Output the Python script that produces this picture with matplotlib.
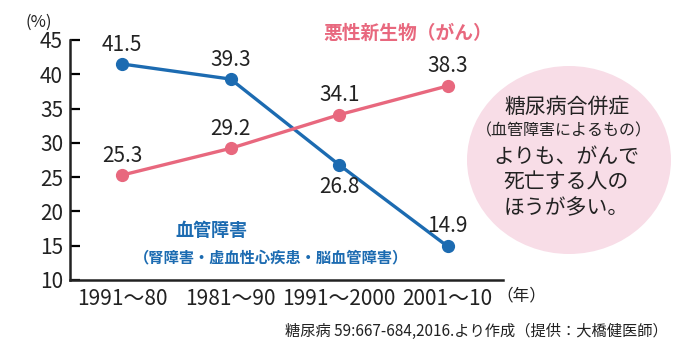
import matplotlib
matplotlib.use("Agg")
import matplotlib.pyplot as plt
from matplotlib.patches import Ellipse

plt.rcParams['font.family'] = ['Noto Sans CJK JP', 'DejaVu Sans']
NUM_FONT = ['Liberation Sans Narrow', 'Noto Sans CJK JP', 'DejaVu Sans']

# data
periods = ["1991〜80", "1981〜90", "1991〜2000", "2001〜10"]
vascular = [41.5, 39.3, 26.8, 14.9]
cancer = [25.3, 29.2, 34.1, 38.3]
yticks = [10, 15, 20, 25, 30, 35, 40, 45]

BLUE = "#1c6bb1"
PINK = "#e8687e"
INK = "#222222"
W, H = 680, 351

fig = plt.figure(figsize=(6.8, 3.51), dpi=100)

def fx(x):
    return x / W

def fy(y):
    return 1 - y / H

# pink bubble behind everything
bubble = Ellipse((fx(569), fy(160)), 204 / W, 188 / H, transform=fig.transFigure,
                 facecolor="#f8dde7", edgecolor="none", zorder=0)
fig.patches.append(bubble)

ax = fig.add_axes([fx(70), fy(280), fx(503) - fx(70), fy(40) - fy(280)])
ax.patch.set_alpha(0)
x = range(len(periods))

ax.plot(x, vascular, color=BLUE, lw=2.4, marker="o", ms=8.5, zorder=3)
ax.plot(x, cancer, color=PINK, lw=2.4, marker="o", ms=8.5, zorder=3)

# value labels: offsets in points
v_off = [(0, 14), (0, 14), (0, -16), (0, 15)]
c_off = [(0, 14), (0, 14), (0, 14), (0, 14)]
for i, v in enumerate(vascular):
    ax.annotate(f"{v}", (i, v), xytext=v_off[i], textcoords="offset points",
                ha="center", va="center", fontsize=15, color=INK, family=NUM_FONT)
for i, v in enumerate(cancer):
    ax.annotate(f"{v}", (i, v), xytext=c_off[i], textcoords="offset points",
                ha="center", va="center", fontsize=15, color=INK, family=NUM_FONT)

ax.set_xlim(-0.48, 3.51)
ax.set_ylim(10, 45)
ax.set_yticks(yticks)
ax.set_xticks(list(x))
ax.set_xticklabels(periods, fontsize=15, color=INK, family=NUM_FONT)
for t in ax.get_yticklabels():
    t.set_family(NUM_FONT)
ax.tick_params(axis="x", length=0, pad=6)
ax.tick_params(axis="y", length=7, width=1.6, direction="in", labelsize=15,
               labelcolor=INK, pad=5)
ax.yaxis.set_ticks_position("left")
for s in ["top", "right"]:
    ax.spines[s].set_visible(False)
for s in ["left", "bottom"]:
    ax.spines[s].set_linewidth(1.8)
    ax.spines[s].set_color(INK)

# texts
fig.text(fx(39), fy(22), "(%)", ha="center", va="center", fontsize=12, color=INK, family=NUM_FONT)
fig.text(fx(521), fy(296), "（年）", ha="center", va="center", fontsize=12, color=INK)
fig.text(fx(408), fy(33), "悪性新生物（がん）", ha="center", va="center",
         fontsize=13.5, color=PINK, fontweight="bold")
fig.text(fx(211), fy(231), "血管障害", ha="center", va="center",
         fontsize=13, color=BLUE, fontweight="bold")
fig.text(fx(271), fy(257), "（腎障害・虚血性心疾患・脳血管障害）", ha="center", va="center",
         fontsize=11, color=BLUE, fontweight="bold")

fig.text(fx(567), fy(107), "糖尿病合併症", ha="center", va="center", fontsize=15, color=INK)
fig.text(fx(564), fy(131), "（血管障害によるもの）", ha="center", va="center", fontsize=11.5, color=INK)
for line, yy in [("よりも、がんで", 157), ("死亡する人の", 183), ("ほうが多い。", 208)]:
    fig.text(fx(566), fy(yy), line, ha="center", va="center", fontsize=15, color=INK)

fig.text(fx(668), fy(331), "糖尿病 59:667-684,2016.より作成（提供：大橋健医師）",
         ha="right", va="center", fontsize=11, color=INK)

fig.savefig("out.png", dpi=100, facecolor="white")
